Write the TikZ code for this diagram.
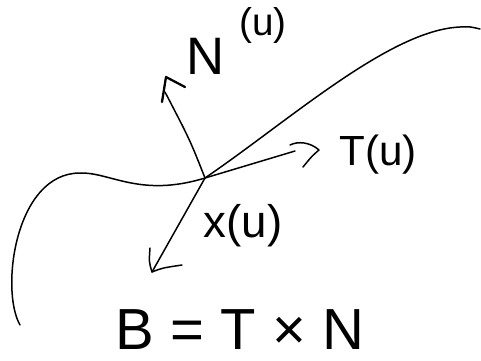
\documentclass[tikz,border=0pt]{standalone}
\usepackage{fontspec}
\setmainfont{Liberation Sans}
\begin{document}
\begin{tikzpicture}[x=0.02cm,y=-0.02cm,
  pen/.style={line width=0.85pt,line cap=round,line join=round},
  lbl/.style={inner sep=0pt,font=\fontsize{24}{24}\selectfont}]
\useasboundingbox (0,0) rectangle (481,360);
\coordinate (P) at (205,178);
% curve
\draw[pen] (20,325) .. controls (0,290) and (15,173) .. (80,173)
  .. controls (110,172) and (140,198) .. (P)
  .. controls (290,120) and (390,30) .. (460,27)
  .. controls (470,26.6) .. (480,29);
% normal
\coordinate (Nend) at (165,92);
\coordinate (Ntip) at (166,77);
\coordinate (Nb1) at (162,102);
\coordinate (Nb2) at (185,87);
\draw[pen] (P) .. controls (190,140) .. (Nend);
\draw[pen,line width=1.3pt] (Nb1) -- (Ntip) -- (Nb2);
% tangent
\coordinate (Tend) at (295,151);
\draw[pen] (P) -- (Tend);
\coordinate (Tb1) at (290,145);
\coordinate (Ttip) at (319,150);
\coordinate (Tb2) at (303,167);
\draw[pen] (Tb1) .. controls (298,141) and (310,142) .. (Ttip) .. controls (312,156) .. (Tb2);
% binormal
\coordinate (Btip) at (152,272);
\draw[pen] (P) -- (Btip);
\coordinate (Bb1) at (150,248);
\coordinate (Bb2) at (182,265);
\draw[pen] (Bb1) .. controls (149,262) .. (Btip) .. controls (162,268) .. (Bb2);
% labels
\node[lbl,font=\fontsize{30}{30}\selectfont] (Nlab) at (206,56) {N};
\node[lbl,font=\fontsize{22}{22}\selectfont] (Nulab) at (263,25) {(u)};
\node[lbl] (Tlab) at (378,155) {T(u)};
\node[lbl,font=\fontsize{26}{26}\selectfont] (xlab) at (243,226) {x(u)};
\node[lbl,font=\fontsize{33}{33}\selectfont] (Blab) at (240,330) {B = T × N};
\end{tikzpicture}
\end{document}
